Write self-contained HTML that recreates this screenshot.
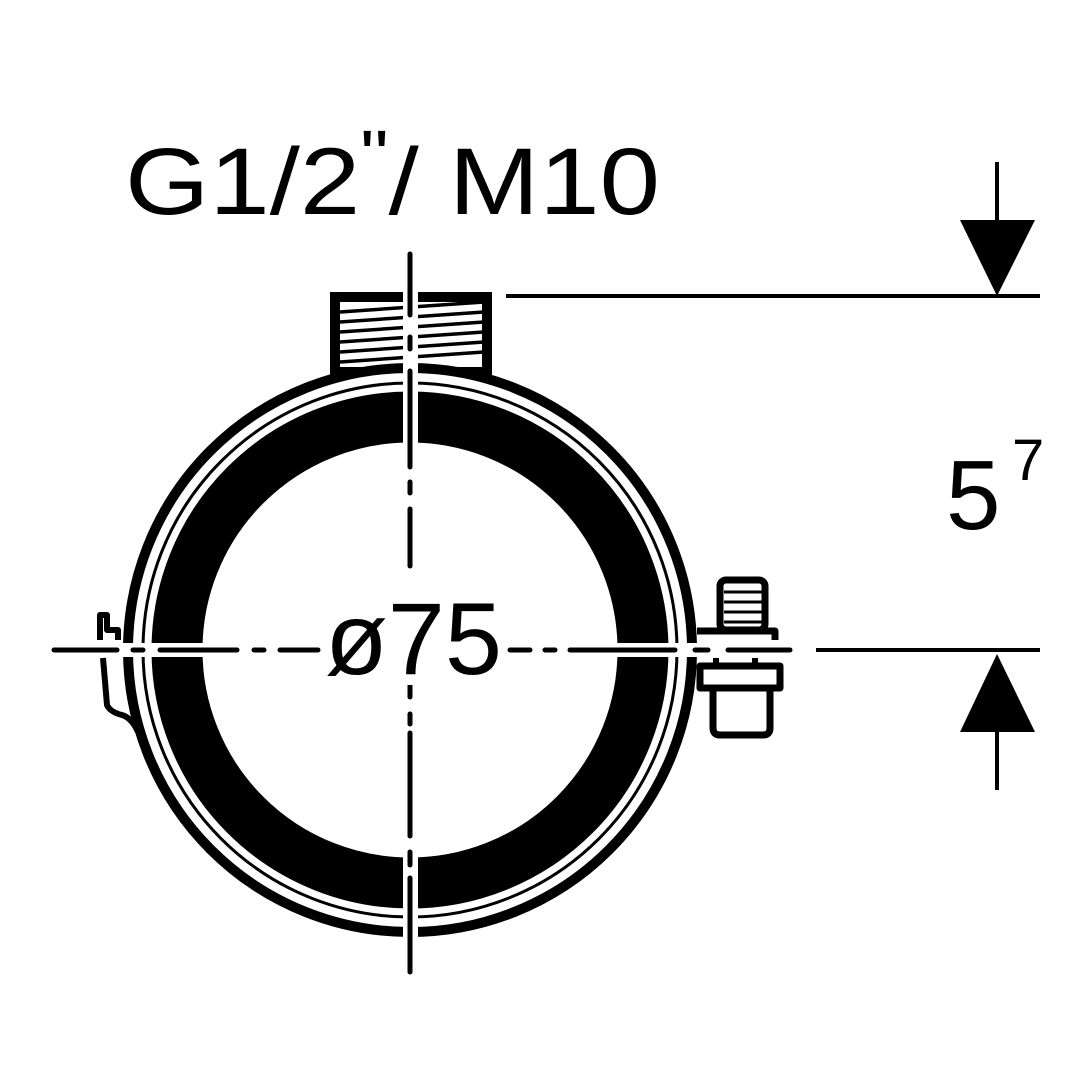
<!DOCTYPE html>
<html><head><style>html,body{margin:0;padding:0;background:#fff}svg{display:block}</style></head>
<body>
<svg width="1080" height="1080" viewBox="0 0 1080 1080" xmlns="http://www.w3.org/2000/svg">
<defs>
<clipPath id="cut"><path d="M0 0H403V643H0Z M418 0H1080V643H418Z M0 657H403V1080H0Z M418 657H1080V1080H418Z"/></clipPath>
</defs>
<g clip-path="url(#cut)" fill="none" stroke="#000">
  <rect x="335" y="297" width="152" height="75" stroke-width="10" fill="#fff"/>
  <g stroke-width="3.5">
    <line x1="340" y1="312" x2="484" y2="302"/>
    <line x1="340" y1="322" x2="484" y2="312"/>
    <line x1="340" y1="332" x2="484" y2="322"/>
    <line x1="340" y1="342" x2="484" y2="332"/>
    <line x1="340" y1="352" x2="484" y2="342"/>
    <line x1="340" y1="362" x2="484" y2="352"/>
  </g>
  <circle cx="410" cy="650" r="282" stroke-width="10" fill="#fff"/>
  <circle cx="410" cy="650" r="267" stroke-width="3"/>
  <circle cx="410" cy="650" r="233" stroke-width="51"/>
</g>
<!-- left clip -->
<g fill="none" stroke="#000" stroke-width="6" stroke-linejoin="round">
  <path d="M100 640 V615 H107 V630 H118 V640"/>
  <path d="M103 658 L107 705 Q110 712 122 715 Q132 718 138 732"/>
</g>
<!-- bolt -->
<g fill="none" stroke="#000" stroke-linejoin="round">
  <rect x="720" y="580" width="45" height="50" rx="6" stroke-width="7"/>
  <g stroke-width="3"><line x1="724" y1="592" x2="762" y2="592"/><line x1="724" y1="602" x2="762" y2="602"/><line x1="724" y1="612" x2="762" y2="612"/><line x1="724" y1="622" x2="762" y2="622"/></g>
  <path d="M697 631 H775 V640" stroke-width="7"/>
  <rect x="700" y="666" width="80" height="22" stroke-width="7"/>
  <path d="M713 688 V728 Q713 735 720 735 H763 Q770 735 770 728 V688" stroke-width="7"/>
  <line x1="716" y1="658" x2="716" y2="666" stroke-width="6"/>
  <line x1="755" y1="658" x2="755" y2="666" stroke-width="6"/>
</g>
<!-- center lines -->
<g stroke="#000" stroke-width="5" stroke-linecap="round">
  <line x1="410" y1="254" x2="410" y2="315"/>
  <line x1="410" y1="337" x2="410" y2="349"/>
  <line x1="410" y1="371" x2="410" y2="467"/>
  <line x1="410" y1="482" x2="410" y2="493"/>
  <line x1="410" y1="509" x2="410" y2="566"/>
  <line x1="410" y1="661" x2="410" y2="697"/>
  <line x1="410" y1="714" x2="410" y2="724"/>
  <line x1="410" y1="733" x2="410" y2="836"/>
  <line x1="410" y1="852" x2="410" y2="865"/>
  <line x1="410" y1="878" x2="410" y2="972"/>
  <line x1="54" y1="650" x2="117" y2="650"/>
  <line x1="133" y1="650" x2="143" y2="650"/>
  <line x1="160" y1="650" x2="237" y2="650"/>
  <line x1="254" y1="650" x2="264" y2="650"/>
  <line x1="280" y1="650" x2="318" y2="650"/>
  <line x1="510" y1="650" x2="530" y2="650"/>
  <line x1="545" y1="650" x2="555" y2="650"/>
  <line x1="570" y1="650" x2="675" y2="650"/>
  <line x1="695" y1="650" x2="708" y2="650"/>
  <line x1="728" y1="650" x2="790" y2="650"/>
</g>
<rect x="325" y="595" width="178" height="90" fill="#fff"/>
<!-- dimension -->
<g stroke="#000" stroke-width="4">
  <line x1="506" y1="296" x2="1040" y2="296"/>
  <line x1="816" y1="650" x2="1040" y2="650"/>
  <line x1="997" y1="162" x2="997" y2="222"/>
  <line x1="997" y1="730" x2="997" y2="790"/>
</g>
<polygon points="960,220 1035,220 997,296" fill="#000"/>
<polygon points="960,732 1035,732 997,654" fill="#000"/>
<g font-family="Liberation Sans, sans-serif" fill="#000">
  <text x="125" y="214" font-size="95" textLength="535" lengthAdjust="spacingAndGlyphs">G1/2<tspan font-size="70" dy="-35">"</tspan><tspan dy="35">/ M10</tspan></text>
  <text x="325" y="674" font-size="102" textLength="177" lengthAdjust="spacingAndGlyphs">ø75</text>
  <text x="946" y="529" font-size="98">5</text>
  <text x="1012" y="480" font-size="58">7</text>
</g>
</svg>
</body></html>
